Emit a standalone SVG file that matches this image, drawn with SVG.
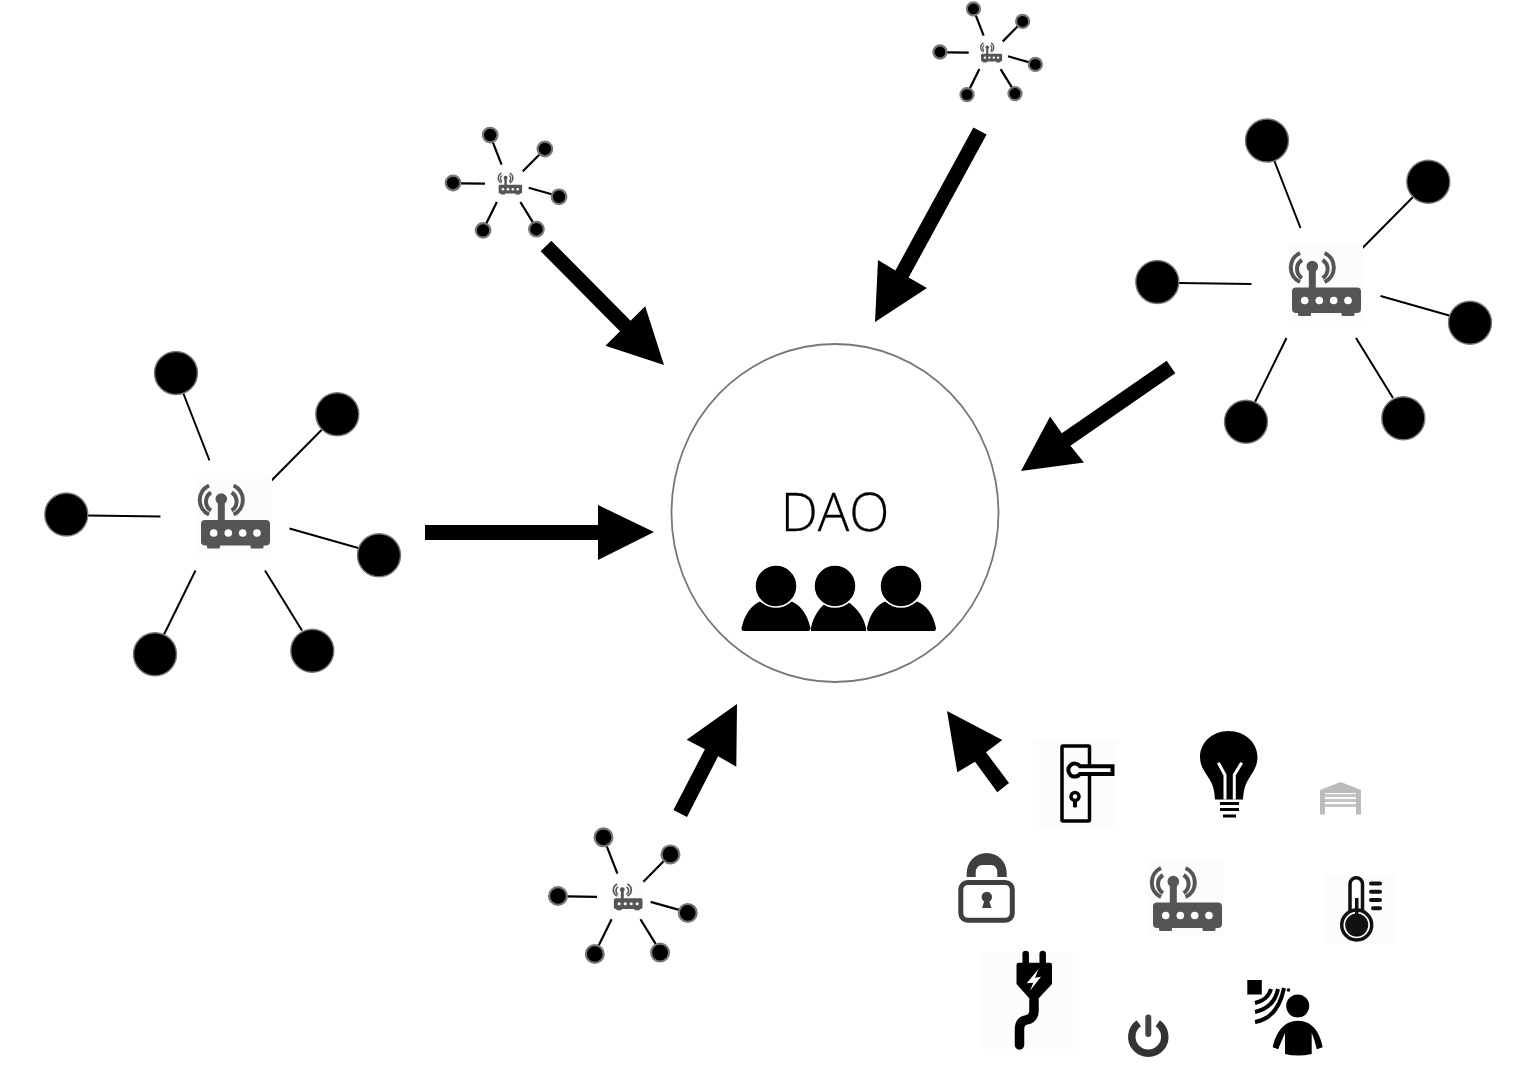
<svg xmlns="http://www.w3.org/2000/svg" xmlns:xlink="http://www.w3.org/1999/xlink" width="1518" height="1072" viewBox="0 0 1518 1072">
<style>
.bg{fill:#fcfcfc}
.rt{fill:#555}
.rarc{fill:none;stroke:#555;stroke-width:4}
.wdot{fill:#fff}
.nd{fill:#000;stroke:#777;stroke-width:var(--nw,1.400);vector-effect:non-scaling-stroke}
.ln{stroke:#000;stroke-width:var(--lw,2);fill:none;vector-effect:non-scaling-stroke}
.arrow{fill:#000}
.k{fill:#000}
.kl{fill:none;stroke:#000;stroke-linecap:round}
.head{fill:#000;stroke:#fff;stroke-width:1.500}
.ico{fill:#3f3f3f}
.small{--nw:2.200;--lw:2.200}
</style>
<defs>
<g id="router">
<rect class="bg" x="1288" y="246" width="75" height="75"/>
<rect class="rt" x="1292" y="287.500" width="69" height="25.500" rx="4"/>
<rect class="rt" x="1298" y="311" width="13" height="5" rx="1.500"/>
<rect class="rt" x="1341.500" y="311" width="13" height="5" rx="1.500"/>
<circle class="wdot" cx="1304.700" cy="300.500" r="3.800"/>
<circle class="wdot" cx="1319.300" cy="300.500" r="3.800"/>
<circle class="wdot" cx="1333.700" cy="300.500" r="3.800"/>
<circle class="wdot" cx="1348" cy="300.500" r="3.800"/>
<rect class="rt" x="1308.800" y="267" width="7" height="22"/>
<circle class="rt" cx="1312.300" cy="266.500" r="5.800"/>
<path class="rarc" d="M1300,253A16,16 0 0 0 1300,282"/>
<path class="rarc" d="M1302,260A10.600,10.600 0 0 0 1302,278"/>
<path class="rarc" d="M1324.600,253A16,16 0 0 1 1324.600,282"/>
<path class="rarc" d="M1322.600,260A10.600,10.600 0 0 1 1322.600,278"/>
</g>
<g id="cluster">
<path class="ln" d="M1274,160L1300.500,228M1413,197L1362.500,248M1179,283L1251.500,284M1380.500,296L1451,316M1286.500,338L1255,402M1356,338L1393,398"/>
<circle class="nd" cx="1267" cy="140.500" r="21.500"/>
<circle class="nd" cx="1428.300" cy="181.700" r="21.500"/>
<circle class="nd" cx="1157.300" cy="282" r="21.500"/>
<circle class="nd" cx="1470" cy="322.700" r="21.500"/>
<circle class="nd" cx="1246" cy="421.700" r="21.500"/>
<circle class="nd" cx="1403.300" cy="418.300" r="21.500"/>
<use xlink:href="#router" href="#router"/>
</g>
</defs>
<rect width="1518" height="1072" fill="#fff"/>

<g id="dao">
<ellipse cx="835" cy="513" rx="163.500" ry="169" fill="#fff" stroke="#777" stroke-width="1.800"/>
<text x="835" y="531" text-anchor="middle" font-family="'Open Sans','Noto Sans',sans-serif" font-weight="300" font-size="52.500" fill="#000" stroke="#000" stroke-width=".3">DAO</text>
<path class="k" d="M811,631L811,628C813,616 821,606 827,602L836,606L848,602C856,607 864,617 866,628L866,631Z"/>
<circle class="head" cx="835" cy="586" r="21"/>
<path class="k" d="M741.500,628C745,613 752,605 760,601.500C770,608 782,608 791.500,601.500C800,605 807,613 810.500,628Q810.500,631 808,631L744,631Q741,631 741.500,628Z"/>
<circle class="head" cx="776" cy="586" r="21"/>
<path class="k" d="M867,628C870,613 877,605 885,601.500C895,608 907,608 917,601.500C926,605 933,613 936,628Q936,631 934,631L869,631Q866.500,631 867,628Z"/>
<circle class="head" cx="901" cy="586" r="21"/>
</g>

<g id="connectors">
<polygon class="arrow" points="425,525 598,525 598,505 654,532 598,560 598,540 425,540"/>
<polygon class="arrow" points="551.300,240.700 630.600,320.700 645.200,306.300 664,365 605.400,345.700 620,331.300 540.700,251.300"/>
<polygon class="arrow" points="986.600,134.600 908.600,277.600 927,288 875,322 878,260 895.400,270.400 973.400,127.400"/>
<polygon class="arrow" points="1175.300,373.200 1070.400,445.700 1084,462.500 1021,471 1050.100,416.500 1061.800,433.300 1166.700,360.800"/>
<polygon class="arrow" points="687,817 718.100,756.200 736.300,766.700 737,704 686.700,739.700 704.900,749.200 673.400,810"/>
<polygon class="arrow" points="1009,783 986,752.300 1002.300,740 947,711 957.300,772.300 975,761.700 997.300,792.300"/>
</g>

<g id="hub-right"><use xlink:href="#cluster" href="#cluster"/></g>
<g id="hub-left"><use xlink:href="#cluster" href="#cluster" transform="translate(-1091,232.500)"/></g>
<g id="hub-top" class="small"><use xlink:href="#cluster" href="#cluster" transform="translate(587,-34) scale(.305)"/></g>
<g id="hub-upper-left" class="small"><use xlink:href="#cluster" href="#cluster" transform="translate(60.700,87.400) scale(.339)"/></g>
<g id="hub-bottom" class="small"><use xlink:href="#cluster" href="#cluster" transform="translate(77.700,779) scale(.415)"/></g>

<g id="door">
<rect class="bg" x="1033" y="741" width="85" height="85"/>
<rect x="1062" y="746" width="27.500" height="75" rx="1" fill="none" stroke="#000" stroke-width="3.500"/>
<path d="M1080,766.200H1112.500V774H1080A6.500,6.500 0 1 1 1080,766.200Z" fill="#fff" stroke="#000" stroke-width="4"/>
<circle cx="1075" cy="796.500" r="4" fill="#fff" stroke="#000" stroke-width="3.500"/>
<rect class="k" x="1073" y="799" width="4" height="8.500" rx="1"/>
</g>

<g id="bulb">
<path class="k" d="M1228.700,731C1245,731 1257.500,743 1257.500,757C1257.500,768 1251,774 1247,782C1244,788 1243.500,793 1243,799.500H1215C1214.500,793 1214,788 1211,782C1207,774 1200,768 1200,757C1200,743 1212,731 1228.700,731Z"/>
<path d="M1218.300,762.700L1225,775V799.500M1241.700,762.700L1234.300,775V799.500" fill="none" stroke="#fff" stroke-width="3"/>
<rect class="k" x="1220" y="802" width="19" height="3"/>
<rect class="k" x="1220" y="808" width="19" height="3"/>
<rect class="k" x="1223" y="814.500" width="13" height="3"/>
</g>

<g id="garage">
<path d="M1320,790L1340.700,782L1361,790V814.500H1356V793H1325V814.500H1320Z" fill="#bbb"/>
<path d="M1325,795.500H1356M1325,800.500H1356M1325,805.500H1356" stroke="#c4c4c4" stroke-width="3" fill="none"/>
</g>

<g id="lock">
<path class="ico" d="M966.700,877V873A20,20 0 0 1 1006.700,873V877H997.300V873Q997.300,865 991,865H983Q975.700,865 975.700,873V877Z"/>
<rect x="960.800" y="882.500" width="51.500" height="37.700" rx="7" fill="#fff" stroke="#3f3f3f" stroke-width="5"/>
<circle class="ico" cx="986.800" cy="897" r="5.200"/>
<path class="ico" d="M985,899H988.500L991.500,908H982Z"/>
</g>

<g id="router-iot"><use xlink:href="#router" href="#router" transform="translate(-139,615)"/></g>

<g id="thermometer">
<rect class="bg" x="1325" y="874" width="71" height="69"/>
<path d="M1350,912V884A6.250,6.250 0 0 1 1362.500,884V912" fill="#fff" stroke="#111" stroke-width="3.500"/>
<circle cx="1356.700" cy="925" r="15" fill="#fff" stroke="#111" stroke-width="3.500"/>
<circle cx="1356.700" cy="925" r="11.500" fill="#111"/>
<rect x="1355" y="898" width="3.500" height="20" fill="#111"/>
<path d="M1371,883.500H1380M1371,891.700H1380M1371,900H1380M1373,908.300H1380" stroke="#111" stroke-width="4" stroke-linecap="round"/>
</g>

<g id="plug">
<rect class="bg" x="982" y="952" width="97" height="97"/>
<path d="M1025.700,954V963M1042.700,954V963" stroke="#000" stroke-width="6.500" stroke-linecap="round"/>
<path class="k" d="M1018.500,962.700H1050Q1052,962.700 1052,965V984L1039,998H1029L1016.500,984V965Q1016.500,962.700 1018.500,962.700Z"/>
<path class="kl" d="M1034,998V1011Q1033.500,1019 1026,1020Q1019.500,1021 1019.500,1030V1045" stroke-width="9.500"/>
<polygon fill="#fff" points="1038.300,969.300 1026.700,983.300 1033.300,982.700 1030,990.700 1041,976.700 1035,977.700"/>
</g>

<g id="power">
<path d="M1138.800,1023.200A16.500,16.500 0 1 0 1157.800,1023.200" fill="none" stroke="#333" stroke-width="7.500"/>
<path d="M1148.300,1017.500V1034" stroke="#444" stroke-width="6" stroke-linecap="round"/>
</g>

<g id="presence">
<rect class="k" x="1247.300" y="980" width="14.500" height="14.500"/>
<path d="M1271,989Q1268,1000 1255,1003M1278,989Q1274,1008 1255,1012M1284,988Q1278,1018 1255,1022" fill="none" stroke="#000" stroke-width="4"/>
<circle class="k" cx="1288.500" cy="990" r="1.800"/>
<circle class="k" cx="1297.700" cy="1006" r="11.500"/>
<path class="k" d="M1272.700,1047.300C1276,1032 1284,1020.700 1298,1020.700C1312,1020.700 1320,1032 1322.700,1047.300L1316.700,1049.300C1315.500,1044 1314,1038 1311.700,1033L1311.700,1054Q1298,1057 1285,1054L1285,1033C1283,1038 1280,1044 1278.300,1049.300Z"/>
</g>
</svg>
